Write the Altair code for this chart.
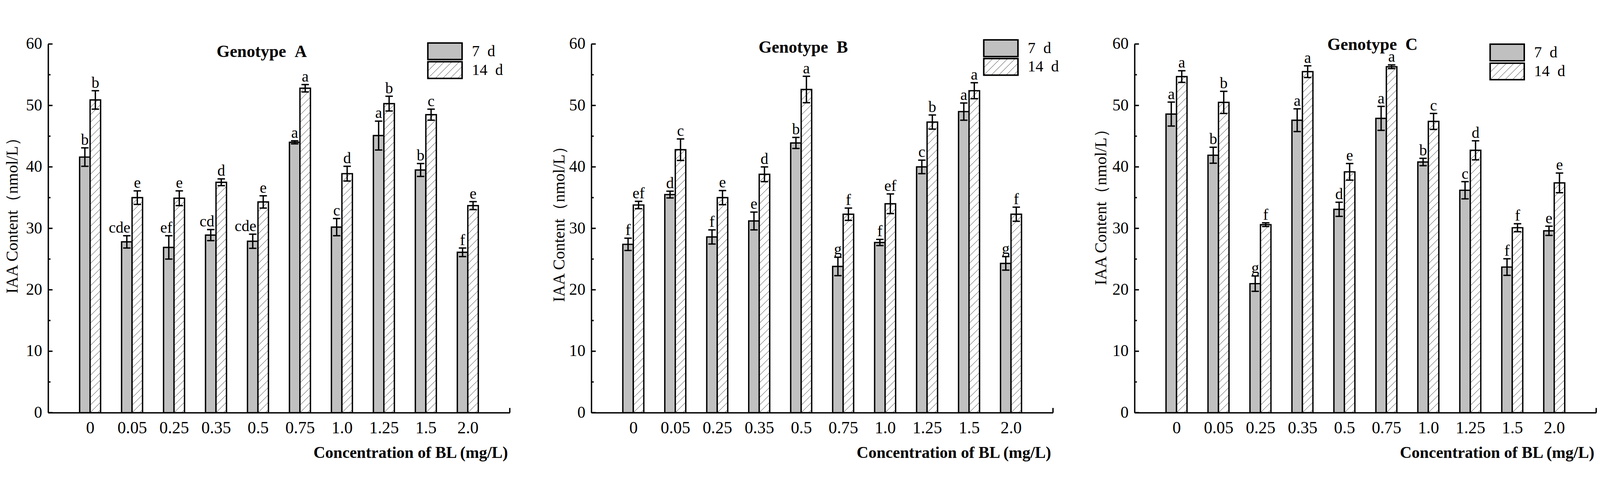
import json
import numpy as np
import pandas as pd
import altair as alt

FONT = "Liberation Serif"

# ---------------- data ----------------
conc_labels = ["0", "0.05", "0.25", "0.35", "0.5", "0.75", "1.0", "1.25", "1.5", "2.0"]
periods = ["7 d", "14 d"]

a_7d = [41.6, 27.8, 26.9, 28.9, 27.9, 44.0, 30.2, 45.1, 39.5, 26.1]
a_7d_sd = [1.5, 1.0, 1.9, 0.9, 1.15, 0.25, 1.4, 2.35, 1.05, 0.7]
a_14d = [50.9, 35.0, 34.9, 37.5, 34.3, 52.8, 38.9, 50.3, 48.5, 33.7]
a_14d_sd = [1.5, 1.1, 1.2, 0.55, 1.0, 0.6, 1.2, 1.2, 0.9, 0.65]
a_7d_letters = ["b", "cde", "ef", "cd", "cde", "a", "c", "a", "b", "f"]
a_14d_letters = ["b", "e", "e", "d", "e", "a", "d", "b", "c", "e"]

b_7d = [27.4, 35.5, 28.6, 31.2, 43.9, 23.8, 27.7, 40.0, 49.0, 24.3]
b_7d_sd = [1.0, 0.55, 1.15, 1.45, 0.9, 1.5, 0.5, 1.1, 1.4, 1.1]
b_14d = [33.8, 42.8, 35.0, 38.8, 52.6, 32.3, 34.0, 47.3, 52.4, 32.3]
b_14d_sd = [0.6, 1.75, 1.15, 1.2, 2.15, 1.0, 1.6, 1.15, 1.3, 1.15]
b_7d_letters = ["f", "d", "f", "e", "b", "g", "f", "c", "a", "g"]
b_14d_letters = ["ef", "c", "e", "d", "a", "f", "ef", "b", "a", "f"]

c_7d = [48.6, 41.9, 21.0, 47.6, 33.1, 47.9, 40.8, 36.2, 23.7, 29.6]
c_7d_sd = [1.95, 1.3, 1.25, 1.85, 1.15, 1.95, 0.6, 1.4, 1.35, 0.75]
c_14d = [54.7, 50.5, 30.6, 55.5, 39.2, 56.3, 47.4, 42.7, 30.1, 37.4]
c_14d_sd = [0.95, 1.8, 0.3, 0.95, 1.35, 0.3, 1.3, 1.55, 0.65, 1.6]
c_7d_letters = ["a", "b", "g", "a", "d", "a", "b", "c", "f", "e"]
c_14d_letters = ["a", "b", "f", "a", "e", "a", "c", "d", "f", "e"]

major_ticks = [0, 10, 20, 30, 40, 50, 60]
minor_ticks = [5, 15, 25, 35, 45, 55]

# ---------------- layout / style ----------------
W, H = 1364, 1090
X_DOMAIN = [-1, 10]
BW = 0.25          # bar width in category units
SX = W / (X_DOMAIN[1] - X_DOMAIN[0])
SY = H / 60.0
HATCH_P = 22.0     # hatch period in px
FILL_RANGE = ["#c0c0c0", "white"]
NBSP2 = "\u00a0\u00a0"


def px_to_x(px):
    return X_DOMAIN[0] + px / SX


def px_to_y(py):
    return (H - py) / SY


def hatch_segments(x0, x1, y0, y1):
    """45-degree hatch lines inside a rectangle given in data units."""
    out = []
    w = (x1 - x0) * SX
    h = (y1 - y0) * SY
    k0 = int(np.floor(-w / HATCH_P)) - 1
    k1 = int(np.ceil(h / HATCH_P)) + 1
    for k in range(k0, k1 + 1):
        c = k * HATCH_P
        xs = max(0.0, -c)
        xe = min(w, h - c)
        if xe - xs > 0.5:
            out.append(dict(hx1=x0 + xs / SX, hy1=y0 + (xs + c) / SY,
                            hx2=x0 + xe / SX, hy2=y0 + (xe + c) / SY))
    return out


def build_df(v7, s7, l7, v14, s14, l14):
    rows = []
    for i, c in enumerate(conc_labels):
        rows.append(dict(conc=c, idx=i, period="7 d", value=v7[i], sd=s7[i], letter=l7[i]))
        rows.append(dict(conc=c, idx=i, period="14 d", value=v14[i], sd=s14[i], letter=l14[i]))
    df = pd.DataFrame(rows)
    df["x0"] = df["idx"] + np.where(df["period"] == "7 d", -BW, 0.0)
    df["x1"] = df["x0"] + BW
    df["xc"] = (df["x0"] + df["x1"]) / 2
    df["lo"] = df["value"] - df["sd"]
    df["hi"] = df["value"] + df["sd"]
    df["zero"] = 0.0
    multi = (df["period"] == "7 d") & (df["letter"].str.len() > 1)
    df["right"] = multi
    df["lx"] = np.where(multi, df["x1"], df["xc"])
    return df


label_expr = json.dumps(conc_labels) + "[datum.value]"


def panel(name, data, cfg):
    df = build_df(*data)
    segs = []
    for _, r in df[df["period"] == "14 d"].iterrows():
        segs += hatch_segments(r["x0"], r["x1"], 0.0, r["value"])

    # legend geometry (pixel layout -> data units)
    cx, cy1, cy2 = cfg["leg_cx"], cfg["leg_cy"], cfg["leg_cy"] + cfg["leg_dy"]
    leg = pd.DataFrame({
        "period": periods,
        "lx0": [px_to_x(cx - 50.5)] * 2,
        "lx1": [px_to_x(cx + 50.5)] * 2,
        "ly0": [px_to_y(cy1 + 24.5), px_to_y(cy2 + 24.5)],
        "ly1": [px_to_y(cy1 - 24.5), px_to_y(cy2 - 24.5)],
        "tx": [px_to_x(cx + 50.5 + 29)] * 2,
        "ty": [px_to_y(cy1), px_to_y(cy2)],
        "label": [p.replace(" ", NBSP2) for p in periods],
    })
    r14 = leg.iloc[1]
    segs += hatch_segments(r14["lx0"], r14["lx1"], r14["ly0"], r14["ly1"])
    hdf = pd.DataFrame(segs)

    xs = alt.Scale(domain=X_DOMAIN, nice=False, zero=False)
    ys = alt.Scale(domain=[0, 60], nice=False, zero=True)
    fill_scale = alt.Scale(domain=periods, range=FILL_RANGE)

    xaxis = alt.Axis(values=list(range(10)), labelExpr=label_expr, ticks=False, tickSize=0,
                     grid=False, domainColor="black", domainWidth=4, labelFontSize=50,
                     labelPadding=20, labelColor="black", labelFont=FONT, labelFlush=False,
                     labelOverlap=False,
                     title="Concentration of BL (mg/L)", titleFontSize=48, titleFont=FONT,
                     titleFontWeight="bold", titleColor="black", titleX=W - 6, titleY=133,
                     titleAlign="right", titleBaseline="alphabetic", titleAnchor="end")
    yaxis = alt.Axis(values=major_ticks, ticks=False, tickSize=0, grid=False,
                     domainColor="black", domainWidth=4, labelFontSize=48, labelPadding=18,
                     labelColor="black", labelFont=FONT, labelFlush=False,
                     title="IAA Content（nmol/L）", titleFontSize=48, titleFont=FONT,
                     titleFontWeight="normal", titleColor="black", titleX=cfg["ytx"],
                     titleY=cfg["yty"], titleAlign="center", titleBaseline="middle")

    base = alt.Chart(df)
    bars = base.mark_rect(stroke="black", strokeWidth=4).encode(
        x=alt.X("x0:Q", scale=xs, axis=xaxis),
        x2="x1:Q",
        y=alt.Y("value:Q", scale=ys, axis=yaxis),
        y2="zero:Q",
        fill=alt.Fill("period:N", scale=fill_scale, legend=None),
    )
    leg_boxes = alt.Chart(leg).mark_rect(stroke="black", strokeWidth=4).encode(
        x="lx0:Q", x2="lx1:Q", y="ly0:Q", y2="ly1:Q",
        fill=alt.Fill("period:N", scale=fill_scale, legend=None),
    )
    hatch = alt.Chart(hdf).mark_rule(strokeWidth=1, color="black").encode(
        x="hx1:Q", x2="hx2:Q", y="hy1:Q", y2="hy2:Q")
    leg_outline = alt.Chart(leg).mark_rect(stroke="black", strokeWidth=4,
                                           fillOpacity=0).encode(
        x="lx0:Q", x2="lx1:Q", y="ly0:Q", y2="ly1:Q")
    leg_text = alt.Chart(leg).mark_text(align="left", baseline="middle", fontSize=46,
                                        font=FONT, color="black").encode(
        x="tx:Q", y="ty:Q", text="label:N")
    err = base.mark_rule(strokeWidth=4, color="black").encode(x="xc:Q", y="lo:Q", y2="hi:Q")
    cap_hi = base.mark_tick(orient="horizontal", size=22, thickness=4, color="black",
                            opacity=1).encode(x="xc:Q", y="hi:Q")
    cap_lo = base.mark_tick(orient="horizontal", size=22, thickness=4, color="black",
                            opacity=1).encode(x="xc:Q", y="lo:Q")
    txt_c = base.transform_filter("!datum.right").mark_text(
        baseline="alphabetic", dy=-9, fontSize=46, font=FONT, color="black").encode(
        x="lx:Q", y="hi:Q", text="letter:N")
    txt_r = base.transform_filter("datum.right").mark_text(
        baseline="alphabetic", align="right", dx=-5, dy=-9, fontSize=46, font=FONT,
        color="black").encode(x="lx:Q", y="hi:Q", text="letter:N")
    tk_major = alt.Chart(pd.DataFrame({"t": major_ticks})).mark_rule(
        strokeWidth=4, color="black").encode(y="t:Q", x=alt.value(0), x2=alt.value(13))
    tk_minor = alt.Chart(pd.DataFrame({"t": minor_ticks})).mark_rule(
        strokeWidth=4, color="black").encode(y="t:Q", x=alt.value(0), x2=alt.value(7))
    end_tick = alt.Chart(pd.DataFrame({"e": [X_DOMAIN[1]]})).mark_rule(
        strokeWidth=4, color="black").encode(x="e:Q", y=alt.value(H), y2=alt.value(H - 14))
    ttl = alt.Chart(pd.DataFrame({"t": ["Genotype" + NBSP2 + name]})).mark_text(
        align="center", baseline="alphabetic", fontSize=50, fontWeight="bold", font=FONT,
        color="black").encode(text="t:N", x=alt.value(cfg["tdx"]), y=alt.value(cfg["tdy"]))
    return alt.layer(bars, leg_boxes, hatch, leg_outline, err, cap_hi, cap_lo, txt_c, txt_r,
                     tk_major, tk_minor, end_tick, ttl, leg_text).properties(width=W, height=H)


cfgA = dict(ytx=-105, yty=495, leg_cx=1172.5, leg_cy=21.5, leg_dy=55.5, tdx=631, tdy=38)
cfgB = dict(ytx=-94, yty=520, leg_cx=1210, leg_cy=12.5, leg_dy=55, tdx=626, tdy=26)
cfgC = dict(ytx=-98, yty=470, leg_cx=1101, leg_cy=25, leg_dy=56, tdx=703, tdy=18)

pA = panel("A", (a_7d, a_7d_sd, a_7d_letters, a_14d, a_14d_sd, a_14d_letters), cfgA)
pB = panel("B", (b_7d, b_7d_sd, b_7d_letters, b_14d, b_14d_sd, b_14d_letters), cfgB)
pC = panel("C", (c_7d, c_7d_sd, c_7d_letters, c_14d, c_14d_sd, c_14d_letters), cfgC)

chart = alt.hconcat(pA, pB, pC, spacing=241, bounds="flush").resolve_scale(
    x="independent", y="independent"
).properties(
    padding={"left": 4, "top": 0, "right": 0, "bottom": 0}
).configure(font=FONT).configure_view(stroke=None)

chart.save("out.html", embed_options={"renderer": "svg", "actions": False})
